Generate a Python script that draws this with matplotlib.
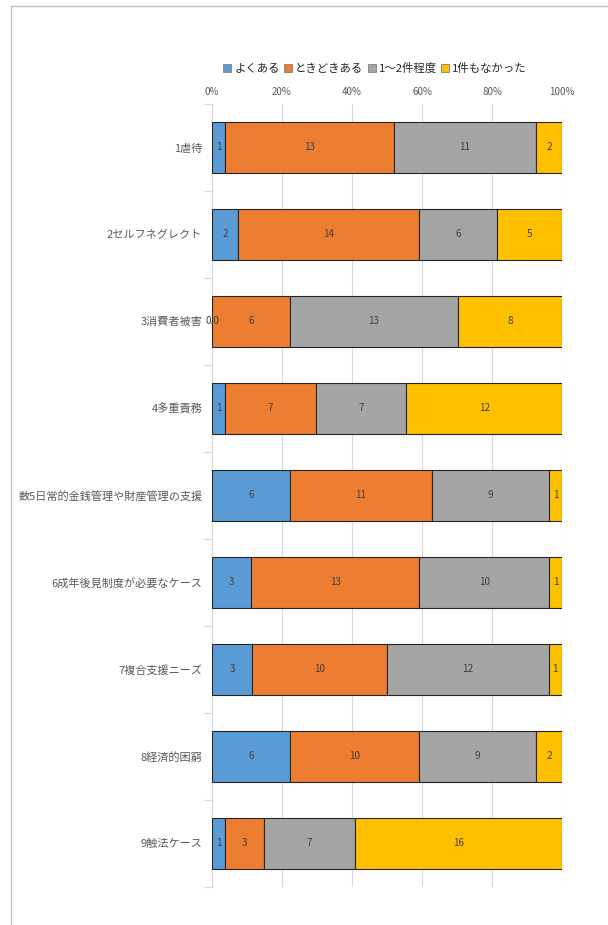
import matplotlib.pyplot as plt
import numpy as np
from matplotlib.lines import Line2D
from matplotlib.patches import Patch
from matplotlib.ticker import FixedLocator, PercentFormatter

plt.rcParams["font.family"] = ["Noto Sans CJK JP", "DejaVu Sans"]

TEXT = "#595959"
GRID = "#d9d9d9"

categories = [
    "1虐待",
    "2セルフネグレクト",
    "3消費者被害",
    "4多重責務",
    "数5日常的金銭管理や財産管理の支援",
    "6成年後見制度が必要なケース",
    "7複合支援ニーズ",
    "8経済的困窮",
    "9触法ケース",
]
series_names = ["よくある", "ときどきある", "1～2件程度", "1件もなかった"]
often = [1, 2, 0, 1, 6, 3, 3, 6, 1]
sometimes = [13, 14, 6, 7, 11, 13, 10, 10, 3]
one_two = [11, 6, 13, 7, 9, 10, 12, 9, 7]
none = [2, 5, 8, 12, 1, 1, 1, 2, 16]
colors = ["#5b9bd5", "#ed7d31", "#a5a5a5", "#ffc000"]

counts = np.array([often, sometimes, one_two, none], dtype=float)
shares = counts / counts.sum(axis=0) * 100

fig = plt.figure(figsize=(6.08, 9.25), dpi=100)
ax = fig.add_axes([0.3487, 0.0411, 0.5757, 0.8465])

y = np.arange(len(categories))
left = np.zeros(len(categories))
for i, name in enumerate(series_names):
    ax.barh(y, shares[i], left=left, height=0.58, color=colors[i],
            edgecolor="#262626", linewidth=0.8, label=name, zorder=3)
    for j in range(len(categories)):
        val = counts[i, j]
        txt = f"{int(val)}" if val > 0 else "0.0"
        ax.text(left[j] + shares[i, j] / 2, y[j], txt, ha="center", va="center",
                fontsize=7.2, color="#404040", zorder=4)
    left += shares[i]

ax.set_xlim(0, 100)
ax.set_ylim(len(categories) - 0.5, -0.5)
ax.xaxis.set_major_locator(FixedLocator([0, 20, 40, 60, 80, 100]))
ax.xaxis.set_major_formatter(PercentFormatter(decimals=0))
ax.xaxis.tick_top()
ax.tick_params(axis="x", length=0, labelsize=7, labelcolor=TEXT, pad=5)
ax.set_yticks(y, categories)
ax.tick_params(axis="y", length=0, labelsize=8, labelcolor=TEXT, pad=7)
ax.yaxis.set_minor_locator(FixedLocator(np.arange(-0.5, len(categories), 1.0)))
ax.tick_params(axis="y", which="minor", length=6, color=GRID, width=0.8)
ax.grid(axis="x", color=GRID, linewidth=0.8, zorder=0)
for s in ["top", "right", "bottom"]:
    ax.spines[s].set_visible(False)
ax.spines["left"].set_color(GRID)

handles = [Patch(facecolor=c, edgecolor="#7f7f7f", linewidth=0.6) for c in colors]
fig.legend(handles, series_names, loc="center", bbox_to_anchor=(0.617, 0.9265),
           ncol=4, frameon=False, fontsize=8.2, handlelength=0.7, handleheight=0.7,
           handletextpad=0.25, columnspacing=0.4, labelcolor="#262626")

# outer chart frame
fig.add_artist(Line2D([11 / 608, 11 / 608], [0, 1 - 6 / 925], color="#c0c0c0",
                      linewidth=1, transform=fig.transFigure))
fig.add_artist(Line2D([11 / 608, 1], [1 - 6 / 925, 1 - 6 / 925], color="#c0c0c0",
                      linewidth=1, transform=fig.transFigure))

fig.savefig("out.png", dpi=100)
